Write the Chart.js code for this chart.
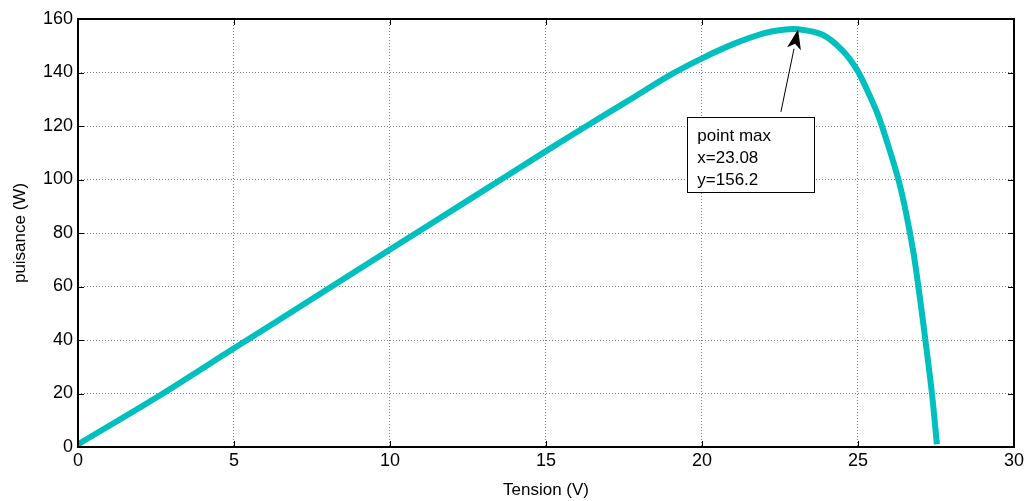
<!DOCTYPE html>
<html>
<head>
<meta charset="utf-8">
<script src="https://cdn.jsdelivr.net/npm/chart.js@4.4.1/dist/chart.umd.min.js"></script>
<style>
  html, body { margin: 0; padding: 0; background: #fff; }
  #wrap { width: 1027px; height: 501px; position: relative; }
</style>
</head>
<body>
<div id="wrap"><canvas id="pvChart"></canvas></div>
<script>
// courbe P(V)
const tension = [0, 2.5, 5, 7.5, 10, 12.5, 15, 16.3, 17.6, 19.0, 20, 21, 22, 22.6, 23.08, 23.85, 24.49, 24.97, 25.34, 25.66, 25.98, 26.3, 26.55, 26.78, 26.97, 27.16, 27.37, 27.53];
const puissance = [1, 18.4, 36.9, 55.3, 73.8, 92.2, 110.6, 120, 129.2, 139.2, 145.3, 150.6, 154.7, 156, 156.2, 154.2, 148.4, 141, 132.2, 123.5, 112.3, 99.8, 87, 72.5, 57, 40, 20, 1];
const xTicks = [0, 5, 10, 15, 20, 25, 30];
const yTicks = [0, 20, 40, 60, 80, 100, 120, 140, 160];
const noteLines = ["point max", "x=23.08", "y=156.2"];
const maxPoint = { x: 23.08, y: 156.2 };

const FONT = "'Liberation Sans', Arial, sans-serif";

// cadre, petits traits de graduation, annotation
const matlabLook = {
  id: "matlabLook",
  afterDraw(chart) {
    const { ctx, chartArea: a, scales: { x, y } } = chart;
    ctx.save();
    ctx.strokeStyle = "#000";
    ctx.lineWidth = 1;
    ctx.beginPath();
    xTicks.forEach((t) => {
      const px = Math.round(x.getPixelForValue(t)) + 0.5;
      ctx.moveTo(px, a.bottom); ctx.lineTo(px, a.bottom - 6);
      ctx.moveTo(px, a.top); ctx.lineTo(px, a.top + 6);
    });
    yTicks.forEach((t) => {
      const py = Math.round(y.getPixelForValue(t)) + 0.5;
      ctx.moveTo(a.left, py); ctx.lineTo(a.left + 6, py);
      ctx.moveTo(a.right, py); ctx.lineTo(a.right - 6, py);
    });
    ctx.stroke();
    ctx.lineWidth = 2;
    ctx.strokeRect(a.left, a.top, a.right - a.left, a.bottom - a.top);

    // boite de texte
    const bx0 = x.getPixelForValue(19.53), bx1 = x.getPixelForValue(23.6);
    const by0 = y.getPixelForValue(123.4), by1 = y.getPixelForValue(95.3);
    ctx.fillStyle = "#fff";
    ctx.fillRect(bx0, by0, bx1 - bx0, by1 - by0);
    ctx.lineWidth = 1;
    ctx.strokeRect(Math.round(bx0) + 0.5, Math.round(by0) + 0.5, Math.round(bx1 - bx0), Math.round(by1 - by0));
    ctx.fillStyle = "#000";
    ctx.font = "17px " + FONT;
    ctx.textBaseline = "alphabetic";
    noteLines.forEach((s, i) => ctx.fillText(s, bx0 + 10, by0 + 24 + i * 22));

    // fleche vers le max
    const tx = x.getPixelForValue(22.53), ty = y.getPixelForValue(125.3);
    const hx = x.getPixelForValue(maxPoint.x), hy = y.getPixelForValue(maxPoint.y);
    const ang = Math.atan2(hy - ty, hx - tx);
    const L = 20, W = 7;
    const bxp = hx - L * Math.cos(ang), byp = hy - L * Math.sin(ang);
    ctx.beginPath();
    ctx.moveTo(tx, ty); ctx.lineTo(bxp, byp);
    ctx.stroke();
    ctx.beginPath();
    ctx.moveTo(hx, hy);
    ctx.lineTo(bxp - W * Math.sin(ang), byp + W * Math.cos(ang));
    ctx.lineTo(bxp + 5 * Math.cos(ang), byp + 5 * Math.sin(ang));
    ctx.lineTo(bxp + W * Math.sin(ang), byp - W * Math.cos(ang));
    ctx.closePath();
    ctx.fill();
    ctx.restore();
  },
};

new Chart(document.getElementById("pvChart"), {
  type: "line",
  data: {
    datasets: [{
      data: tension.map((v, i) => ({ x: v, y: puissance[i] })),
      borderColor: "#00bfbf",
      borderWidth: 6,
      pointRadius: 0,
      tension: 0.3,
    }],
  },
  options: {
    responsive: true,
    maintainAspectRatio: false,
    animation: false,
    layout: { padding: { top: 19, right: 12, left: 0, bottom: 0 } },
    plugins: { legend: { display: false }, tooltip: { enabled: false } },
    scales: {
      x: {
        type: "linear",
        min: 0, max: 30,
        afterBuildTicks: (s) => { s.ticks = xTicks.map((v) => ({ value: v })); },
        afterFit: (s) => { s.height = 54; },
        grid: { color: "#808080", lineWidth: 1, drawTicks: false },
        border: { display: false, dash: [1, 2] },
        ticks: { color: "#000", font: { family: FONT, size: 18 }, padding: 3, maxRotation: 0 },
        title: { display: true, text: "Tension (V)", color: "#000", font: { family: FONT, size: 17 }, padding: { top: 0, bottom: 0 } },
      },
      y: {
        min: 0, max: 160,
        afterBuildTicks: (s) => { s.ticks = yTicks.map((v) => ({ value: v })); },
        afterFit: (s) => { s.width = 78; },
        grid: { color: "#808080", lineWidth: 1, drawTicks: false },
        border: { display: false, dash: [1, 2] },
        ticks: { color: "#000", font: { family: FONT, size: 18 }, padding: 5 },
        title: { display: true, text: "puisance (W)", color: "#000", font: { family: FONT, size: 17 }, padding: { top: 10, bottom: 0 } },
      },
    },
  },
  plugins: [matlabLook],
});
</script>
</body>
</html>
